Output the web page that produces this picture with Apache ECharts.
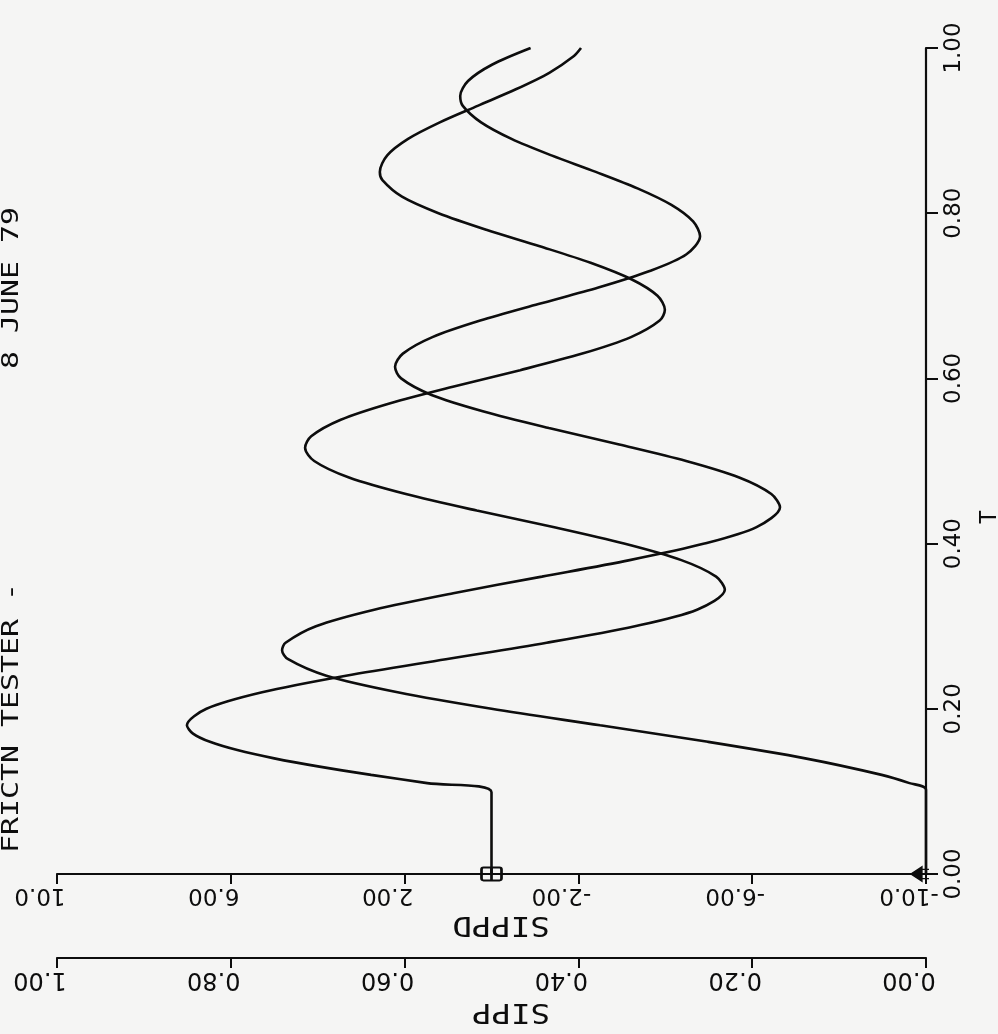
<!DOCTYPE html>
<html>
<head>
<meta charset="utf-8">
<script src="https://cdn.jsdelivr.net/npm/echarts@6/dist/echarts.min.js"></script>
<style>
  html, body { margin: 0; padding: 0; background: #f5f5f4; }
  #chart { width: 998px; height: 1034px; }
</style>
</head>
<body>
<div id="chart"></div>
<script>
// Friction tester run: SIPPD and SIPP traced against time T.
const tSippd = [0, 0.099, 0.11, 0.12, 0.13, 0.14, 0.15, 0.16, 0.17, 0.18, 0.20, 0.22, 0.24, 0.26, 0.28, 0.30, 0.32, 0.344,
  0.36, 0.38, 0.40, 0.42, 0.44, 0.46, 0.48, 0.50, 0.516, 0.53, 0.55, 0.57, 0.59, 0.61, 0.63, 0.65, 0.67, 0.683,
  0.70, 0.72, 0.74, 0.76, 0.78, 0.80, 0.82, 0.84, 0.85, 0.87, 0.89, 0.91, 0.93, 0.95, 0.97, 0.99, 1.00];
const sippd = [0, 0, 1.48, 2.77, 3.96, 5.00, 5.85, 6.48, 6.87, 7.01, 6.56, 5.28, 3.35, 1.05, -1.27, -3.30, -4.73, -5.37,
  -5.17, -4.37, -3.05, -1.42, 0.34, 1.97, 3.28, 4.08, 4.29, 4.15, 3.47, 2.33, 0.89, -0.66, -2.09, -3.21, -3.87, -3.99,
  -3.82, -3.22, -2.28, -1.11, 0.12, 1.22, 2.06, 2.51, 2.57, 2.40, 1.92, 1.19, 0.32, -0.56, -1.33, -1.89, -2.06];

const tSipp = [0, 0.102, 0.11, 0.12, 0.14, 0.16, 0.18, 0.20, 0.22, 0.24, 0.26, 0.271, 0.28, 0.30, 0.32, 0.34, 0.36, 0.38,
  0.40, 0.42, 0.444, 0.46, 0.48, 0.50, 0.52, 0.54, 0.56, 0.58, 0.60, 0.614, 0.63, 0.65, 0.67, 0.69, 0.71, 0.73, 0.75,
  0.772, 0.79, 0.81, 0.83, 0.85, 0.87, 0.89, 0.91, 0.93, 0.942, 0.96, 0.98, 1.00];
const sipp = [0, 0, 0.019, 0.051, 0.139, 0.251, 0.375, 0.500, 0.608, 0.690, 0.734, 0.741, 0.737, 0.702, 0.635, 0.544,
  0.442, 0.341, 0.255, 0.195, 0.168, 0.178, 0.215, 0.276, 0.353, 0.434, 0.509, 0.569, 0.604, 0.611, 0.602, 0.568,
  0.513, 0.446, 0.377, 0.318, 0.276, 0.260, 0.268, 0.293, 0.332, 0.380, 0.431, 0.477, 0.512, 0.533, 0.536, 0.527,
  0.499, 0.455];

const sippdTicks = [-10, -6, -2, 2, 6, 10];
const sippdTickLabels = ['-10.0', '-6.00', '-2.00', '2.00', '6.00', '10.0'];
const sippTicks = [0, 0.2, 0.4, 0.6, 0.8, 1.0];
const sippTickLabels = ['0.00', '0.20', '0.40', '0.60', '0.80', '1.00'];
const tTicks = [0, 0.2, 0.4, 0.6, 0.8, 1.0];
const tTickLabels = ['0.00', '0.20', '0.40', '0.60', '0.80', '1.00'];

const titleLeft = 'FRICTN TESTER -';
const titleRight = '8 JUNE 79';

const INK = '#0d0d0d';
const MONO = '"DejaVu Sans Mono", monospace';
const SANS = '"DejaVu Sans", sans-serif';

function labelFor(ticks, labels) {
  return function (v) {
    for (let i = 0; i < ticks.length; i++) {
      if (Math.abs(ticks[i] - v) < 1e-6) return labels[i];
    }
    return '';
  };
}

function pairs(xs, ts) {
  return xs.map(function (v, i) { return [v, ts[i]]; });
}

// start markers drawn on the first point of each trace
const boxMark = 'path://M2,0 L18,0 Q20,0 20,2 L20,10 Q20,12 18,12 L2,12 Q0,12 0,10 L0,2 Q0,0 2,0 Z M10,0 L10,12 M0,6 L20,6';
const arrowMark = 'path://M0,6 L12,0 L12,12 Z M12,2 L20,2 M12,6 L20,6 M12,10 L20,10';

const sippdData = pairs(sippd, tSippd);
sippdData[0] = { value: sippdData[0], symbol: boxMark, symbolSize: [20, 13],
  itemStyle: { color: 'rgba(0,0,0,0)', borderColor: INK, borderWidth: 2.2 } };
const sippData = pairs(sipp, tSipp);
sippData[0] = { value: sippData[0], symbol: arrowMark, symbolSize: [18, 14], symbolOffset: [-6, 0],
  itemStyle: { color: INK, borderColor: INK, borderWidth: 1.5 } };

function xAxisBase(min, max, ticks, labels, offset, fontSize, margin) {
  return {
    type: 'value', position: 'bottom', inverse: true, min: min, max: max, offset: offset,
    axisLine: { show: true, onZero: false, lineStyle: { color: INK, width: 2.2 } },
    axisTick: { show: true, length: 10, customValues: ticks, lineStyle: { color: INK, width: 2 } },
    axisLabel: { show: true, rotate: 180, margin: margin, customValues: ticks, formatter: labelFor(ticks, labels),
      color: INK, fontFamily: SANS, fontSize: fontSize, padding: [0, 0, 0, 34] },
    splitLine: { show: false }
  };
}

function rotatedText(text, x, y, rotation, size, scaleX, align) {
  return { type: 'text', x: x, y: y, rotation: rotation, scaleX: scaleX,
    style: { text: text, fill: INK, font: size + 'px ' + MONO, textAlign: align, textVerticalAlign: 'middle' } };
}

const chart = echarts.init(document.getElementById('chart'), null, { renderer: 'canvas' });
chart.setOption({
  backgroundColor: '#f5f5f4',
  animation: false,
  grid: { left: 57, right: 72, top: 48, bottom: 160, containLabel: false },
  xAxis: [
    xAxisBase(-10, 10, sippdTicks, sippdTickLabels, 0, 23, 9),
    xAxisBase(0, 1, sippTicks, sippTickLabels, 84, 24, 9)
  ],
  yAxis: {
    type: 'value', position: 'right', min: 0, max: 1, interval: 0.2,
    axisLine: { show: true, onZero: false, lineStyle: { color: INK, width: 2.2 } },
    axisTick: { show: true, length: 12, lineStyle: { color: INK, width: 2 } },
    axisLabel: { show: true, rotate: 90, margin: 17, formatter: labelFor(tTicks, tTickLabels),
      color: INK, fontFamily: SANS, fontSize: 23 },
    splitLine: { show: false }
  },
  series: [
    {
      name: 'SIPPD', type: 'line', xAxisIndex: 0, yAxisIndex: 0, data: sippdData,
      symbol: 'none', showSymbol: true, smooth: 0.3,
      lineStyle: { color: INK, width: 2.6 }, z: 3
    },
    {
      name: 'SIPP', type: 'line', xAxisIndex: 1, yAxisIndex: 0, data: sippData,
      symbol: 'none', showSymbol: true, smooth: 0.3,
      lineStyle: { color: INK, width: 2.6 }, z: 3
    }
  ],
  graphic: [
    rotatedText(titleLeft, 12, 853, Math.PI / 2, 23, 1.3, 'left'),
    rotatedText(titleRight, 12, 369, Math.PI / 2, 23, 1.3, 'left'),
    rotatedText('T', 990, 517, Math.PI / 2, 23, 1, 'center'),
    // axis titles, printed upside down under each scale
    rotatedText('SIPPD', 501, 924, Math.PI, 27, 1.2, 'center'),
    rotatedText('SIPP', 511, 1011, Math.PI, 27, 1.2, 'center')
  ]
});
</script>
</body>
</html>
